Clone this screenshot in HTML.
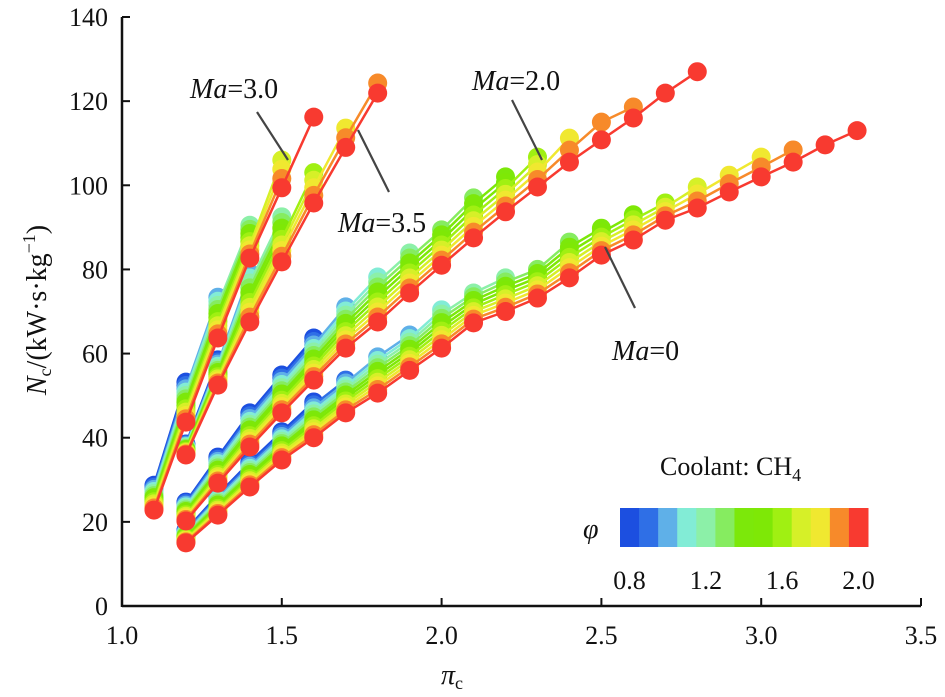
<!DOCTYPE html>
<html><head><meta charset="utf-8"><style>
html,body{margin:0;padding:0;background:#fff;}
svg{display:block;}
svg text{font-family:"Liberation Serif","Times New Roman",serif;}
</style></head><body>
<svg id="chart" width="945" height="697" viewBox="0 0 945 697" xmlns="http://www.w3.org/2000/svg" font-family="Liberation Serif, serif"></svg>
<script>
// ---- data ----
const phiLabels = [0.8,0.9,1.0,1.1,1.2,1.3,1.4,1.5,1.6,1.7,1.8,1.9,2.0];
const phiColors = ['#1c4fe0','#2f6fe6','#5fb0e8','#82ecd6','#8cf0a8','#86ec60','#7ce80a','#7ee806','#a0f012','#d6f028','#f0e830','#f78a2a','#f83a30'];
const xTicks = [1.0,1.5,2.0,2.5,3.0,3.5];
const yTicks = [0,20,40,60,80,100,120,140];
// Ma=0
const ma0X = [1.2,1.3,1.4,1.5,1.6,1.7,1.8,1.9,2.0,2.1,2.2,2.3,2.4,2.5,2.6,2.7,2.8,2.9,3.0,3.1,3.2,3.3];
const ma0Red = [15,21.6,28.3,34.7,40,45.9,50.6,56,61.3,67.3,70,73.2,78,83.4,87,91.7,94.6,98.4,102,105.5,109.6,113];
const ma0Top = [18,26.4,34.2,41.4,48.5,53.7,59.2,64.4,70.4,74.4,78,80,86.5,89.8,93,95.8,99.6,102.4,106.7,108.4,109.6,113];
const ma0End = [1.6,1.7,1.9,2.0,2.2,2.4,2.5,2.6,2.7,2.8,3.0,3.1,3.3];
// Ma=2.0
const ma2X = [1.2,1.3,1.4,1.5,1.6,1.7,1.8,1.9,2.0,2.1,2.2,2.3,2.4,2.5,2.6,2.7,2.8];
const ma2Red = [20.2,29.2,37.8,45.9,53.7,61.3,67.5,74.4,81,87.5,93.7,99.6,105.5,110.8,116,121.9,127];
const ma2Top = [24.7,35.4,45.9,54.9,63.7,71.1,78.2,83.9,89.4,97,102,106.7,111.2,115,118.6,121.9,127];
const ma2End = [1.6,1.6,1.7,1.8,1.9,2.1,2.2,2.2,2.3,2.3,2.4,2.6,2.8];
// Ma=3.0
const ma3X = [1.1,1.2,1.3,1.4,1.5,1.6];
const ma3Red = [22.8,43.7,63.7,82.7,99.4,116.2];
const ma3Top = [28.7,53.2,73.4,90.5,106,116.2];
const ma3End = [1.2,1.2,1.3,1.3,1.4,1.4,1.4,1.4,1.4,1.5,1.5,1.5,1.6];
// Ma=3.5
const ma35X = [1.2,1.3,1.4,1.5,1.6,1.7,1.8];
const ma35Red = [35.9,52.5,67.5,81.8,95.8,109,121.9];
const ma35Top = [38.5,58.5,79.1,92.5,103,113.6,124.3];
const ma35End = [1.3,1.3,1.4,1.4,1.5,1.5,1.5,1.5,1.6,1.6,1.7,1.8,1.8];

const NS='http://www.w3.org/2000/svg';
const svg=document.getElementById('chart');
const X0=122,X1=921,Y0=606,Y1=17;
const FF='Liberation Serif, Times New Roman, serif';
function sx(v){return X0+(v-1.0)/(3.5-1.0)*(X1-X0);}
function sy(v){return Y0-(v-0)/(140-0)*(Y0-Y1);}
function mk(tag,attrs,parent){const e=document.createElementNS(NS,tag);for(const k in attrs)e.setAttribute(k,attrs[k]);if(tag==='text')e.setAttribute('font-family',FF);(parent||svg).appendChild(e);return e;}

// axes
let ax=mk('line',{x1:X0,y1:Y0,x2:X1,y2:Y0,stroke:'#111','stroke-width':2.5});


let ay=mk('line',{x1:X0,y1:Y0+1,x2:X0,y2:Y1,stroke:'#111','stroke-width':2.5});


xTicks.forEach(t=>{
  let l=mk('line',{x1:sx(t),y1:Y0,x2:sx(t),y2:Y0-8,stroke:'#111','stroke-width':2});
  
  
  let tx=mk('text',{x:sx(t),y:Y0+38,'text-anchor':'middle','font-size':26,fill:'#111'});
  tx.textContent=t.toFixed(1);
  
  
});
yTicks.forEach(t=>{
  let l=mk('line',{x1:X0,y1:sy(t),x2:X0+8,y2:sy(t),stroke:'#111','stroke-width':2});
  
  
  let tx=mk('text',{x:X0-14,y:sy(t)+9,'text-anchor':'end','font-size':26,fill:'#111'});
  tx.textContent=String(t);
  
  
});

// series
function drawGroup(name,xs,red,top,ends){
  const g=mk('g',{});
  
  
  for(let i=0;i<13;i++){
    const pts=[];
    xs.forEach((x,j)=>{
      if(x>ends[i]+1e-9)return;
      const present=[];for(let k=0;k<13;k++)if(ends[k]>=x-1e-9)present.push(k);
      const n=present.length,pos=present.indexOf(i);
      const frac=n>1?(n-1-pos)/(n-1):0;
      pts.push([sx(x),sy(red[j]+(top[j]-red[j])*frac)]);
    });
    if(!pts.length)continue;
    const pl=mk('polyline',{points:pts.map(p=>p.join(',')).join(' '),fill:'none',stroke:phiColors[i],'stroke-width':2.5},g);
    
    
    pts.forEach(p=>{
      const c=mk('circle',{cx:p[0],cy:p[1],r:9.5,fill:phiColors[i]},g);
      
      
    });
  }
}
drawGroup('series-ma-0',ma0X,ma0Red,ma0Top,ma0End);
drawGroup('series-ma-2',ma2X,ma2Red,ma2Top,ma2End);
drawGroup('series-ma-3-5',ma35X,ma35Red,ma35Top,ma35End);
drawGroup('series-ma-3',ma3X,ma3Red,ma3Top,ma3End);

// annotations
const ann=[
 ['ma-3-0',190,98,'3.0',257,112,288,160],
 ['ma-3-5',338,232,'3.5',358,130,389,192],
 ['ma-2-0',472,90,'2.0',512,100,542,160],
 ['ma-0',612,360,'0',605,247,635,308]
];
ann.forEach(a=>{
  let l=mk('line',{x1:a[4],y1:a[5],x2:a[6],y2:a[7],stroke:'#444','stroke-width':2.2});
  
  
  let t=mk('text',{x:a[1],y:a[2],'font-size':28,fill:'#111'});
  t.innerHTML='<tspan font-style="italic">Ma</tspan>='+a[3];
  
  
});

// colorbar
const cb=mk('g',{});


const cbx=620,cbw=248/13;
phiColors.forEach((c,i)=>{
  let r=mk('rect',{x:cbx+i*cbw,y:508,width:cbw+0.5,height:39,fill:c},cb);
  
  
});
[[0.8,0],[1.2,4],[1.6,8],[2.0,12]].forEach(p=>{
  let t=mk('text',{x:cbx+p[1]*cbw+cbw/2,y:589,'text-anchor':'middle','font-size':26,fill:'#111'},cb);
  t.textContent=p[0].toFixed(1);
  
  
});
let phiT=mk('text',{x:583,y:538,'font-size':28,'font-style':'italic',fill:'#111'});
phiT.textContent='φ';


let cool=mk('text',{x:660,y:475,'font-size':26,fill:'#111'});
cool.innerHTML='Coolant: CH<tspan font-size="18" dy="6">4</tspan>';



// axis titles
let xt=mk('text',{x:452,y:684,'text-anchor':'middle','font-size':28,fill:'#111'});
xt.innerHTML='<tspan font-style="italic">π</tspan><tspan font-size="18" dy="5">c</tspan>';


let yt=mk('text',{x:0,y:0,'text-anchor':'middle','font-size':28,fill:'#111',transform:'translate(46,310) rotate(-90)'});
yt.innerHTML='<tspan font-style="italic">N</tspan><tspan font-size="18" dy="5">c</tspan><tspan dy="-5">/(kW·s·kg</tspan><tspan font-size="18" dy="-11">−1</tspan><tspan dy="11">)</tspan>';


</script>
</body></html>
